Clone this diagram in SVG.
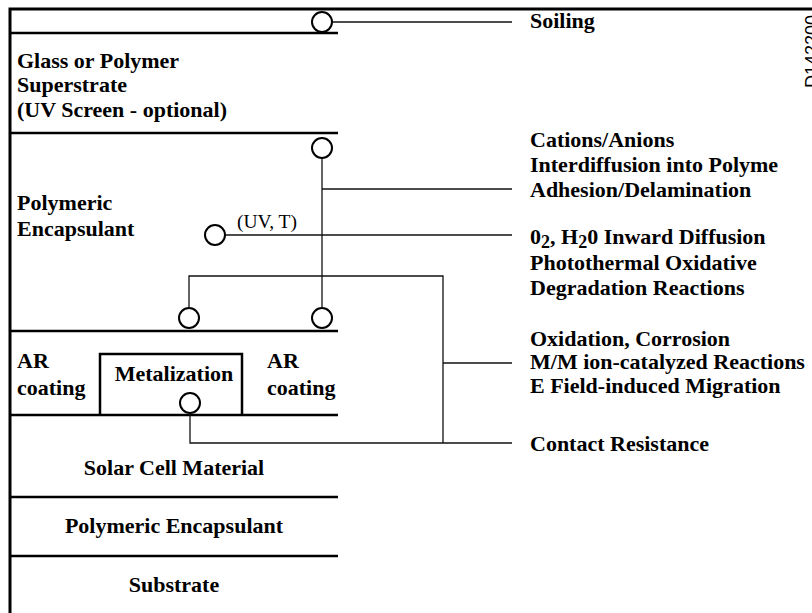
<svg xmlns="http://www.w3.org/2000/svg" width="812" height="613" viewBox="0 0 812 613">
<style>
.b{font-family:"Liberation Serif","Times New Roman",serif;font-weight:bold;font-size:22px;fill:#000}
.r{font-family:"Liberation Serif","Times New Roman",serif;font-size:19.5px;fill:#000}
.c{text-anchor:middle}
.layer{stroke:#000;stroke-width:2.5;fill:none}
.border{stroke:#000;stroke-width:3;fill:none}
.conn{stroke:#111;stroke-width:1.3;fill:none}
.node{stroke:#000;stroke-width:2;fill:#fff}
.id{font-family:"Liberation Sans",Arial,sans-serif;font-size:18px;fill:#000}
</style>
<rect width="812" height="613" fill="#fff"/>
<g id="frame">
<path class="border" d="M10,613 V9 H812"/>
</g>
<g id="layers">
<path class="layer" d="M10,33 H338 M10,133 H338 M10,331 H338 M10,415 H338 M10,497 H338 M10,556 H338"/>
<path class="layer" d="M100,415 V354 H242 V415"/>
</g>
<g id="connectors">
<path class="conn" d="M333,22 H512"/>
<path class="conn" d="M322,159 V307"/>
<path class="conn" d="M322,189 H512"/>
<path class="conn" d="M226,235 H512"/>
<path class="conn" d="M189,307 V276 H443 V443"/>
<path class="conn" d="M443,363 H512"/>
<path class="conn" d="M190,414 V443 H512"/>
</g>
<g id="n-soiling"><circle class="node" cx="322" cy="22" r="10"/></g>
<g id="n-superstrate-bottom"><circle class="node" cx="322" cy="148" r="10"/></g>
<g id="n-uvt"><circle class="node" cx="215" cy="235" r="10"/></g>
<g id="n-enc-bottom-left"><circle class="node" cx="189" cy="318" r="10"/></g>
<g id="n-enc-bottom-right"><circle class="node" cx="322" cy="318" r="10"/></g>
<g id="n-metal"><circle class="node" cx="190" cy="403" r="10"/></g>
<g id="labels-left">
<text class="b" x="17" y="68">Glass or Polymer</text>
<text class="b" x="17" y="92">Superstrate</text>
<text class="b" x="17" y="117">(UV Screen - optional)</text>
<text class="b" x="17" y="210">Polymeric</text>
<text class="b" x="17" y="236">Encapsulant</text>
<text class="r" x="237" y="228">(UV, T)</text>
<text class="b" x="17" y="368">AR</text>
<text class="b" x="17" y="395">coating</text>
<text class="b c" x="174" y="381">Metalization</text>
<text class="b" x="267" y="368">AR</text>
<text class="b" x="267" y="395">coating</text>
<text class="b c" x="174" y="475">Solar Cell Material</text>
<text class="b c" x="174" y="533">Polymeric Encapsulant</text>
<text class="b c" x="174" y="592">Substrate</text>
</g>
<g id="labels-right">
<text class="b" x="530" y="28">Soiling</text>
<text class="b" x="530" y="147">Cations/Anions</text>
<text class="b" x="530" y="172">Interdiffusion into Polyme</text>
<text class="b" x="530" y="197">Adhesion/Delamination</text>
<text class="b" x="530" y="244">0<tspan font-size="18" dy="4">2</tspan><tspan dy="-4">, H</tspan><tspan font-size="18" dy="4">2</tspan><tspan dy="-4">0 Inward Diffusion</tspan></text>
<text class="b" x="530" y="270">Photothermal Oxidative</text>
<text class="b" x="530" y="295">Degradation Reactions</text>
<text class="b" x="530" y="346">Oxidation, Corrosion</text>
<text class="b" x="530" y="369">M/M ion-catalyzed Reactions</text>
<text class="b" x="530" y="393">E Field-induced Migration</text>
<text class="b" x="530" y="451">Contact Resistance</text>
</g>
<text class="id" transform="translate(818,88) rotate(-90)">D142200</text>
</svg>
